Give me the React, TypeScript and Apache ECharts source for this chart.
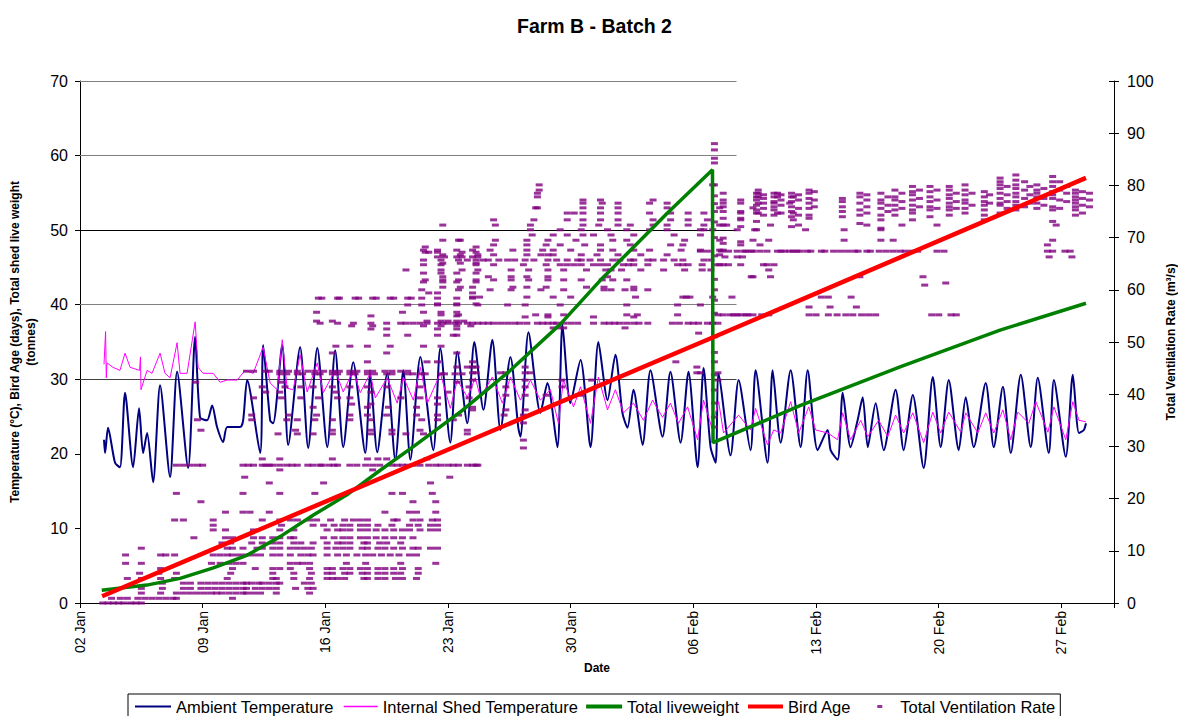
import React, { useEffect, useRef } from 'react';
import * as echarts from 'echarts';

const FONT = 'Arial, "Liberation Sans", Helvetica, sans-serif';

// x values are days since 02 Jan
const tickLabels = ['02 Jan', '09 Jan', '16 Jan', '23 Jan', '30 Jan', '06 Feb', '13 Feb', '20 Feb', '27 Feb'];

const ambientTemp: [number, number][] = [
  [1.37, 21.9], [1.43, 20.1], [1.6, 23.5], [2.0, 18.8], [2.28, 18.2], [2.57, 28.2], [3.03, 18.2], [3.37, 26.1], [3.6, 20.1], [3.83, 22.8],
  [4.17, 16.2], [4.57, 29.2], [5.14, 16.9], [5.54, 31.0], [6.17, 18.1], [6.57, 35.7], [6.85, 24.9], [7.25, 24.5], [7.54, 26.5], [7.82, 23.6],
  [8.17, 21.6], [8.4, 23.6], [9.14, 23.6], [9.31, 24.5], [9.54, 29.9], [10.28, 20.1], [10.45, 34.6], [10.85, 24.5], [11.02, 24.1], [11.54, 34.6],
  [11.88, 21.2], [12.56, 34.3], [13.02, 20.8], [13.54, 34.2], [14.11, 20.9], [14.56, 33.9], [15.02, 20.9], [15.59, 32.3], [16.28, 20.1], [16.56, 30.8],
  [16.96, 20.2], [17.53, 30.8], [17.99, 19.2], [18.45, 31.2], [18.85, 19.2], [19.42, 33.0], [20.16, 20.5], [20.56, 34.2], [21.13, 21.5], [21.53, 33.7],
  [22.1, 24.1], [22.5, 35.0], [23.02, 25.9], [23.53, 35.3], [23.99, 23.2], [24.56, 33.0], [25.01, 23.5], [25.13, 22.3], [25.59, 36.3], [26.27, 25.5],
  [26.67, 29.5], [27.24, 20.9], [27.53, 37.3], [27.98, 26.8], [28.56, 32.6], [29.13, 20.9], [29.58, 35.0], [30.1, 27.2], [30.55, 33.3], [30.95, 25.5],
  [31.24, 23.5], [31.58, 28.6], [32.1, 21.2], [32.55, 31.2], [33.24, 22.3], [33.69, 31.0], [34.27, 21.5], [34.72, 31.0], [35.24, 18.2], [35.58, 31.5],
  [35.98, 20.9], [36.27, 18.8], [36.44, 30.8], [37.12, 19.8], [37.58, 29.9], [38.26, 20.5], [38.55, 31.2], [39.23, 18.8], [39.52, 31.2], [39.98, 21.5],
  [40.55, 31.2], [41.12, 20.9], [41.52, 31.2], [42.09, 20.5], [42.66, 23.2], [42.83, 20.5], [43.23, 19.2], [43.52, 28.2], [43.97, 20.9], [44.37, 24.5],
  [44.66, 27.6], [44.95, 20.9], [45.4, 26.8], [45.86, 20.5], [46.54, 28.6], [47.0, 20.5], [47.52, 27.9], [48.14, 18.1], [48.66, 30.3], [49.11, 20.9],
  [49.57, 29.9], [50.14, 20.5], [50.54, 27.6], [51.0, 20.9], [51.68, 29.5], [52.14, 20.9], [52.66, 29.0], [53.11, 20.1], [53.68, 30.6], [54.25, 20.9],
  [54.65, 30.2], [55.28, 20.1], [55.57, 29.9], [56.25, 19.6], [56.65, 30.6], [57.0, 22.8], [57.28, 23.2], [57.4, 24.1],
];

const internalTemp: [number, number][] = [
  [1.37, 32.0], [1.46, 36.4], [1.5, 30.2], [1.54, 32.2], [1.88, 31.6], [2.28, 31.2], [2.57, 33.5], [2.86, 31.6], [3.4, 31.2], [3.45, 33.0],
  [3.48, 28.6], [3.83, 31.2], [4.11, 30.8], [4.57, 33.5], [4.85, 30.8], [5.14, 30.2], [5.54, 34.9], [5.71, 30.8], [6.11, 30.8], [6.57, 37.7],
  [6.74, 31.6], [7.02, 30.8], [7.6, 30.8], [8.0, 29.6], [8.4, 29.9], [8.97, 29.9], [9.42, 31.2], [9.88, 30.8], [10.45, 34.3], [10.85, 29.5],
  [11.25, 28.6], [11.54, 35.3], [11.82, 28.8], [12.16, 28.6], [12.56, 33.3], [12.96, 28.3], [13.54, 32.2], [13.88, 28.2], [14.56, 31.2], [15.02, 28.3],
  [15.59, 31.2], [15.99, 28.2], [16.56, 30.8], [16.85, 27.5], [17.53, 30.2], [18.1, 26.8], [18.45, 30.3], [19.02, 27.2], [19.42, 31.6], [19.82, 26.8],
  [20.56, 30.8], [21.13, 26.1], [21.53, 29.9], [22.1, 27.6], [22.56, 30.2], [22.84, 27.6], [23.53, 30.3], [24.1, 26.8], [24.56, 30.3], [25.13, 27.2],
  [25.7, 29.9], [26.27, 27.2], [26.84, 28.6], [27.3, 24.1], [27.58, 29.9], [28.16, 26.3], [28.56, 29.0], [29.13, 24.1], [29.58, 30.3], [30.1, 25.9],
  [30.55, 28.6], [31.01, 25.5], [31.58, 26.8], [32.15, 24.5], [32.67, 27.2], [33.24, 24.9], [33.69, 26.8], [34.15, 24.1], [34.67, 26.3], [35.24, 21.9],
  [35.58, 27.2], [36.04, 23.6], [36.44, 27.0], [36.72, 22.8], [37.58, 25.2], [38.26, 23.2], [38.55, 26.1], [39.23, 21.2], [39.58, 23.2], [39.98, 22.8],
  [40.55, 27.0], [41.01, 22.8], [41.58, 26.3], [41.98, 23.2], [42.66, 22.8], [43.23, 21.9], [43.52, 25.5], [43.97, 21.9], [44.55, 24.5], [44.95, 22.3],
  [45.57, 24.5], [46.09, 22.3], [46.54, 25.2], [47.0, 22.8], [47.52, 25.5], [48.14, 21.5], [48.66, 25.6], [49.11, 22.8], [49.57, 25.6], [50.26, 22.9],
  [50.54, 25.5], [51.23, 22.8], [51.68, 25.5], [52.14, 22.8], [52.66, 25.9], [53.11, 21.9], [53.51, 25.6], [54.14, 24.1], [54.54, 27.0], [55.23, 22.9],
  [55.57, 26.3], [56.25, 21.9], [56.65, 27.0], [57.0, 24.5], [57.4, 24.3],
];

const liveweight: [number, number][] = [
  [1.24, 1.7], [3.81, 2.4], [5.71, 3.3], [7.61, 4.7], [9.52, 6.4], [11.42, 8.9], [13.32, 11.8], [15.23, 14.5], [17.13, 17.8], [19.04, 21.0],
  [21.8, 25.8], [24.56, 31.2], [27.41, 37.4], [29.7, 43.3], [31.58, 47.7], [33.52, 52.3], [36.09, 58.1], [36.12, 21.5], [41.12, 26.5], [46.83, 31.7],
  [52.5, 36.6], [57.4, 40.2],
];

const birdAge: [number, number][] = [[1.26, 0.9], [36.1, 35.6], [57.4, 57.0]];

// Total ventilation rate: rows = [rate, days at which a reading sits at that rate]
const ventRows: [number, number[]][] = [
  [0.0, [1.3, 1.6, 1.9, 2.2, 2.5, 2.9, 3.2, 3.5]],
  [0.9, [1.8, 2.3, 2.7, 3.3, 3.7, 4.1, 4.5, 4.9, 5.3, 5.5, 8.7]],
  [1.9, [3.5, 4.6, 5.5, 5.9, 6.3, 6.7, 7.1, 7.5, 7.8, 8.1, 8.5, 8.9, 9.3, 9.5, 9.9, 10.3, 11.2, 13.1]],
  [2.8, [3.5, 4.7, 5.9, 6.3, 6.9, 7.3, 7.7, 8.1, 8.5, 8.9, 9.3, 9.5, 10.0, 10.4, 10.8, 11.2, 12.3, 13.0, 13.3]],
  [3.8, [4.7, 5.9, 6.3, 6.9, 7.3, 7.7, 8.1, 8.5, 8.9, 9.3, 9.5, 9.8, 10.2, 10.4, 10.8, 11.2, 11.4, 12.8, 13.2]],
  [4.7, [2.7, 3.5, 4.6, 5.4, 8.4, 11.0, 11.2, 12.2, 13.1, 14.1, 14.4, 14.7, 15.1, 16.2, 16.4, 17.0, 17.4, 18.0, 18.4, 19.2]],
  [5.7, [3.4, 4.5, 5.5, 8.6, 11.0, 12.2, 13.2, 14.1, 14.4, 15.1, 15.4, 16.1, 16.4, 17.0, 17.4, 17.9, 18.3, 19.3]],
  [6.6, [4.6, 8.7, 10.0, 11.0, 11.4, 12.0, 13.1, 14.1, 14.4, 15.0, 15.4, 16.0, 16.4, 17.0, 17.4, 17.9, 18.4, 19.3]],
  [7.6, [2.6, 3.5, 7.5, 8.0, 8.5, 8.9, 9.3, 12.0, 12.4, 12.7, 13.1, 15.2, 16.3, 18.3, 20.3]],
  [9.2, [2.6, 4.6, 4.9, 5.4, 7.6, 8.0, 8.4, 8.7, 9.1, 9.5, 9.9, 10.3, 11.0, 11.4, 12.0, 12.6, 13.0, 13.3, 14.1, 14.7, 15.2, 15.8, 16.3, 16.7, 17.2, 17.7, 18.2, 18.8, 19.2]],
  [10.5, [3.5, 8.4, 8.7, 9.3, 10.1, 10.4, 11.0, 11.4, 12.0, 12.4, 12.8, 13.2, 14.1, 14.6, 15.0, 15.4, 16.1, 16.4, 17.0, 17.4, 17.9, 18.4, 19.0, 19.3, 20.0, 20.4]],
  [11.5, [8.1, 8.6, 9.8, 10.4, 11.0, 11.4, 12.2, 12.6, 13.3, 14.1, 14.7, 15.0, 15.4, 16.2, 16.4, 17.1, 17.5, 18.3]],
  [12.5, [6.5, 8.3, 8.7, 9.9, 10.4, 11.0, 11.4, 12.0, 12.2, 13.9, 14.5, 15.0, 15.4, 16.0, 16.4, 16.9, 17.4, 17.9, 18.4, 19.0]],
  [14.0, [7.6, 8.3, 9.9, 11.4, 12.2, 14.1, 14.7, 15.0, 15.4, 16.0, 16.4, 16.9, 17.4, 17.9, 18.4, 18.8, 19.4, 20.0, 20.4]],
  [14.9, [7.6, 11.5, 13.3, 13.9, 14.5, 15.0, 15.4, 16.0, 16.4, 17.0, 17.8, 18.8, 19.3, 20.0, 20.4]],
  [15.9, [5.4, 5.9, 7.6, 10.4, 11.4, 12.0, 12.4, 13.1, 13.5, 14.3, 15.1, 15.6, 16.0, 16.4, 17.9, 18.1, 19.0, 19.4, 20.1, 20.4]],
  [17.4, [8.3, 9.3, 9.7, 10.8, 17.4, 18.8, 19.2, 20.3]],
  [19.4, [6.9, 19.0, 20.3]],
  [21.0, [5.5, 9.3, 11.4, 13.4, 17.8, 18.4, 20.1]],
  [23.0, [10.8, 13.9, 20.0]],
  [24.1, [9.4, 21.1]],
  [25.5, [11.4, 16.7]],
  [26.4, [5.5, 5.9, 6.3, 6.7, 7.0, 9.3, 9.6, 9.9, 10.4, 10.6, 10.8, 11.0, 11.4, 11.8, 12.1, 12.4, 13.0, 13.3, 13.7, 13.8, 14.2, 14.5, 14.7, 15.4, 15.8, 16.3, 16.7, 17.1, 17.8, 18.1, 18.4, 18.7, 19.0, 19.4, 19.9, 20.3, 20.6, 21.0, 21.3, 21.6, 22.1, 22.4, 22.6, 22.7]],
  [27.6, [10.4, 11.4, 14.4, 16.4, 17.0, 17.5, 19.8]],
  [29.7, [25.3]],
  [31.2, [25.3]],
  [32.4, [11.3, 12.4, 13.3, 14.4, 16.6, 17.8, 18.6, 19.6, 22.1]],
  [33.1, [6.9, 12.3, 14.4, 16.6, 17.8, 19.4, 22.1]],
  [34.5, [25.3]],
  [35.1, [6.7, 9.8, 11.8, 12.4, 13.4, 14.4, 15.4, 16.6, 19.5, 20.4, 21.3]],
  [36.0, [9.8, 11.9, 13.5, 15.4, 16.4, 17.5, 19.2, 20.4, 21.6, 24.2, 25.3]],
  [37.0, [22.4, 24.3, 25.4]],
  [37.5, [13.3, 16.4, 17.6, 19.2, 22.4]],
  [38.1, [15.5, 16.6, 20.4]],
  [39.3, [9.9, 11.5, 12.6, 13.6, 14.7, 15.4, 18.3, 19.4, 20.4, 22.2]],
  [39.8, [24.3, 25.4, 26.6, 28.6]],
  [40.4, [10.6, 11.4, 14.6, 16.6, 21.0]],
  [41.4, [10.4, 11.7, 12.6, 13.3, 14.4, 15.4, 16.4, 17.5, 19.4, 22.2, 24.3, 25.4, 27.5]],
  [42.3, [6.6, 11.5, 21.5]],
  [42.7, [22.4, 25.4, 27.5, 29.2, 36.4]],
  [43.9, [11.4, 11.8, 12.4, 12.7, 13.4, 13.7, 14.4, 14.7, 15.4, 15.7, 16.4, 16.8, 17.5, 17.8, 18.7, 19.0, 19.5, 19.7, 20.6, 20.8, 21.4, 21.8]],
  [44.1, [22.4, 22.6, 24.0, 24.3, 25.4, 25.7, 35.2, 35.4, 36.4]],
  [44.4, [9.5, 9.9, 10.6, 10.8, 11.4, 11.9, 12.4, 13.0, 13.4, 13.9, 14.4, 14.8, 15.4, 15.8, 16.4, 16.7, 17.4, 17.8, 18.3, 18.7]],
  [45.2, [21.5, 22.1, 22.4, 22.6, 25.4, 35.2]],
  [46.2, [16.4, 19.8, 20.4, 22.4, 34.0]],
  [47.9, [14.4, 17.5, 21.5]],
  [49.2, [14.6, 15.4, 16.4, 17.7, 19.6, 20.6]],
  [51.3, [17.5, 18.7, 20.4, 21.5, 21.3]],
  [51.7, [35.3]],
  [52.5, [16.6, 17.5, 20.4, 21.5]],
  [52.7, [27.0, 27.3, 27.6, 31.1]],
  [53.1, [15.5, 16.7, 19.6, 20.6, 21.5, 22.3]],
  [53.6, [13.7, 14.7, 15.6, 16.6, 17.5, 18.3, 18.6, 19.0, 19.4, 19.8, 20.4, 20.7, 21.0, 21.4, 21.6, 22.1, 22.4, 22.7, 23.0, 23.3, 23.6, 24.0, 24.4, 24.8, 25.1, 25.5, 26.1, 26.4, 26.7, 27.0, 27.2, 27.6, 28.0, 28.4, 29.3, 29.9, 30.2, 30.5, 30.8, 31.2, 31.6, 31.9, 32.4, 33.8, 34.2, 34.7, 35.0, 35.3, 35.8, 36.1, 36.4]],
  [54.0, [13.5, 14.4, 19.8, 20.6, 21.0, 21.5, 21.9]],
  [54.8, [25.4, 26.7, 29.3, 31.6]],
  [55.0, [16.6, 21.5]],
  [55.2, [20.6, 21.6, 26.0, 26.7, 27.6, 31.2, 31.8, 34.1, 36.4, 36.7, 37.1, 37.3, 37.5, 37.7, 38.0, 38.1, 38.4, 38.9, 39.3, 41.6, 42.0, 42.7, 43.2, 43.7, 44.1, 44.6, 45.0, 45.4, 48.6, 49.0, 49.7, 50.0]],
  [55.7, [13.5, 18.4, 19.6, 20.6, 21.5]],
  [56.7, [41.6, 42.8, 44.3]],
  [57.1, [18.7, 19.5, 20.4, 21.5, 22.7, 24.4, 25.4, 27.4, 31.2, 34.1, 35.4]],
  [57.3, [20.4, 21.5, 22.6]],
  [58.4, [13.6, 13.8, 14.7, 14.8, 15.7, 15.9, 16.7, 16.9, 17.7, 17.9, 18.7, 18.9, 19.5, 20.4, 21.5, 22.4]],
  [58.6, [22.4, 22.8, 25.5, 27.0, 28.0, 31.7, 34.4, 34.6, 34.8, 36.1, 37.2, 42.3, 42.7, 44.0]],
  [59.4, [19.9, 20.4, 22.4]],
  [60.0, [19.5, 21.6, 23.4, 24.6, 26.3, 27.6, 29.9, 30.3, 31.1, 31.6, 32.4]],
  [60.5, [20.7, 21.7, 22.4, 24.7, 25.5, 26.6, 28.9, 29.9, 31.6]],
  [60.9, [48.2]],
  [61.3, [49.4]],
  [61.5, [19.6, 20.7, 21.5, 22.6]],
  [61.9, [19.7, 20.7, 21.6, 22.6, 23.6, 24.6, 25.6, 26.7, 27.6, 28.6, 29.8, 30.4, 31.2]],
  [62.5, [20.7, 23.3, 24.6, 25.5, 26.7, 30.1, 38.3, 38.4, 39.4, 44.5, 48.1]],
  [63.2, [19.6, 20.6, 21.5, 22.6]],
  [63.8, [18.6, 20.6, 21.8, 22.7, 24.6, 25.6, 26.7, 27.6, 28.9, 30.0, 30.3, 30.9, 32.0, 33.3, 34.5, 35.5, 36.0, 39.3]],
  [64.8, [19.6, 20.6, 22.6, 23.6, 25.3, 26.6, 27.4, 27.8, 28.2, 28.6, 29.3, 29.7, 30.1, 31.0, 31.3, 31.6, 32.4, 34.1, 34.4, 34.7, 35.5, 36.3, 36.5, 36.7, 37.0, 37.7, 39.0, 39.2, 39.6]],
  [65.1, [20.7, 21.7, 22.6]],
  [65.7, [19.6, 20.6, 21.6, 22.1, 22.6, 23.0, 23.3, 23.9, 24.4, 24.8, 25.4, 25.9, 26.7, 27.2, 27.8, 28.4, 28.6, 29.1, 29.7, 30.4, 30.8, 31.4, 31.6, 32.4, 32.7, 33.3, 33.9, 34.4, 35.6, 36.0]],
  [66.3, [20.4, 20.8, 21.5, 21.8, 22.4, 22.7, 36.8, 37.5, 37.8, 55.3, 56.6]],
  [66.7, [20.7, 21.7, 22.7, 23.6, 25.5, 26.3, 26.7, 27.0, 28.6, 29.5, 30.7, 32.0, 33.5, 36.5]],
  [67.2, [19.7, 19.9, 20.4, 21.8, 22.6]],
  [67.4, [35.4, 35.8, 36.6, 37.0, 37.5, 37.9, 38.0, 38.3, 38.4, 38.8, 39.2, 39.8, 40.0, 40.2, 40.5, 40.7, 40.9, 41.1, 41.5, 41.7, 42.3, 42.5, 43.0, 43.4, 43.8, 44.2, 44.4, 44.9, 45.1, 45.6, 46.0, 46.4, 46.8, 47.1, 47.5, 47.8, 48.9, 49.3, 55.2, 55.5, 56.2, 56.5]],
  [67.6, [19.6, 20.4, 21.5, 22.4, 23.4, 24.7, 25.5, 26.4, 27.0, 28.0, 29.7, 30.4, 31.6, 32.5, 34.3, 35.4, 36.5]],
  [68.2, [19.7, 22.6]],
  [68.6, [23.6, 25.5, 26.6, 27.4, 28.8, 29.7, 31.4, 33.7, 34.4, 37.7, 38.8, 55.2]],
  [69.5, [20.7, 21.6, 21.7, 23.7, 25.5, 26.7, 28.3, 30.4, 31.2, 34.5, 36.5, 38.4, 39.3, 43.6, 45.7, 46.4, 55.5]],
  [70.5, [25.8, 27.0, 27.8, 28.7, 29.3, 30.3, 31.6, 33.9, 35.4]],
  [71.5, [25.7, 27.4, 28.6, 30.1, 31.2, 32.5, 33.5, 35.4, 35.6, 36.1, 37.5, 38.5, 41.4, 43.6, 45.7]],
  [72.4, [20.7, 23.7, 25.7, 28.7, 29.6, 30.7, 31.4, 32.7, 33.5, 34.7, 35.6, 36.5, 39.4, 36.9, 41.0, 44.9, 46.9, 48.9, 55.7]],
  [73.4, [23.6, 25.9, 27.8, 28.7, 29.7, 30.7, 32.7, 33.7, 34.7, 35.8, 37.7, 40.7]],
  [74.7, [27.8, 28.2, 28.7, 29.7, 30.7, 32.5, 33.7, 34.7, 35.6, 37.7, 38.7, 39.8, 40.7]],
  [75.7, [26.0, 26.1, 28.7, 29.7, 30.7, 33.5, 36.5, 38.4]],
  [76.6, [28.7, 29.8, 30.7, 32.5, 33.5, 36.7, 38.7, 39.6, 40.5]],
  [77.2, [28.7, 29.7, 32.7, 36.7, 37.7]],
  [77.8, [26.1, 38.7, 39.8, 40.7]],
  [78.5, [26.1, 38.7, 39.8]],
  [79.1, [26.2, 38.7]],
  [80.1, [26.2, 36.1]],
];

// Columns: [day, rates stacked at that day]
const ventCols: [number, number[]][] = [
  [36.2, [88.0, 86.8, 85.2, 84.3, 80.1, 78.0, 76.5, 75.0, 73.0, 70.0, 66.5, 62.0, 60.0, 58.0, 55.5, 51.0, 48.0, 46.2, 43.7, 40.8, 38.3, 35.6, 33.7]],
  [36.7, [78.5, 75.9, 75.0, 73.7, 72.4, 69.9, 68.9, 67.6]],
  [37.7, [76.6, 75.0, 73.7, 72.1, 69.2]],
  [38.6, [78.5, 77.8, 77.2, 76.2, 75.3, 74.7, 73.1, 71.5]],
  [39.0, [78.2, 77.5, 76.6, 75.6, 74.3]],
  [39.6, [78.5, 77.8, 76.9, 75.9, 75.3, 74.3]],
  [40.0, [78.2, 77.2, 76.2, 74.7]],
  [40.6, [78.5, 77.8, 76.9, 75.9, 75.0, 74.0, 72.1]],
  [41.0, [78.2, 77.2, 75.6, 74.3]],
  [41.6, [79.1, 78.5, 77.5, 76.6, 75.6, 74.3, 73.7]],
  [41.9, [78.8, 77.2, 75.9]],
  [43.5, [77.5, 76.9, 75.9, 75.0, 74.0]],
  [44.5, [78.5, 77.8, 76.6, 75.3, 74.3, 72.7]],
  [44.9, [78.2, 77.2, 75.9, 74.7]],
  [45.7, [78.5, 77.2, 76.6, 75.6, 74.3, 73.4, 71.8]],
  [46.1, [77.8, 76.2, 75.0]],
  [46.5, [79.1, 77.8, 77.2, 76.2, 75.3, 74.3]],
  [46.9, [78.5, 76.9, 75.6]],
  [47.5, [79.8, 78.8, 78.2, 77.2, 76.2, 75.3, 74.7, 73.4]],
  [47.9, [79.1, 77.5, 75.9]],
  [48.5, [79.8, 78.8, 77.8, 76.9, 75.9, 75.3, 74.0]],
  [48.9, [79.1, 77.2, 75.6]],
  [49.6, [79.8, 79.1, 78.2, 77.5, 76.6, 75.9, 75.3, 74.3]],
  [50.0, [78.5, 76.9, 75.6]],
  [50.5, [80.1, 79.1, 78.2, 77.2, 76.6, 75.6, 74.7]],
  [50.9, [78.5, 76.2]],
  [51.6, [78.8, 77.8, 76.9, 76.2, 75.3, 74.3, 73.4]],
  [51.9, [78.2, 76.6]],
  [52.5, [81.4, 80.7, 80.1, 79.4, 78.5, 77.5, 76.6, 76.2, 74.7]],
  [52.9, [79.8, 78.2, 76.9, 75.6]],
  [53.4, [82.0, 81.0, 80.1, 79.4, 78.5, 77.8, 76.9, 76.2, 75.3]],
  [53.9, [80.7, 79.1, 77.5, 75.9]],
  [54.2, [79.8, 78.2, 76.6]],
  [54.6, [80.1, 79.1, 78.5, 77.8, 76.6, 75.6]],
  [55.0, [79.4, 77.5, 76.2]],
  [55.5, [81.7, 80.7, 79.8, 78.8, 78.2, 77.5, 75.9, 75.3, 73.1]],
  [55.9, [80.7, 79.1, 77.2, 75.6]],
  [56.3, [79.8, 78.5, 76.9]],
  [56.8, [79.1, 78.5, 77.8, 77.2, 76.6, 75.9, 75.3, 74.3]],
  [57.2, [78.8, 77.5, 76.2, 74.7]],
  [57.6, [78.5, 77.2, 75.9]],
];

const gridLevels = [30, 40, 50, 60, 70];
const gridColors = ['#404040', '#808080', '#000000', '#808080', '#808080'];
const gridEndDay = 37.46;

const ventPoints: [number, number][] = [
  ...ventRows.flatMap(([r, days]) => days.map((d) => [d, r] as [number, number])),
  ...ventCols.flatMap(([d, rs]) => rs.map((r) => [d, r] as [number, number])),
];

const legendIcon = (shape: string) => `path://M0,0L0.01,0${shape}M38,14L37.99,14`;

export default function App() {
  const ref = useRef<HTMLDivElement>(null);
  useEffect(() => {
    if (!ref.current) return;
    const chart = echarts.init(ref.current, undefined, { renderer: 'svg' });
    const axisText = { fontFamily: FONT, color: '#000' };
    const option: any = {
      animation: false,
      backgroundColor: '#ffffff',
      title: {
        text: 'Farm B - Batch 2',
        left: 512,
        top: 11,
        textStyle: { fontFamily: FONT, fontSize: 19.5, fontWeight: 'bold', color: '#000' },
      },
      grid: { left: 80, right: 64, top: 81, bottom: 113, containLabel: false, outerBoundsMode: 'none' },
      legend: {
        left: 128,
        top: 694,
        padding: [4, 5],
        borderColor: '#000',
        borderWidth: 1,
        borderRadius: 0,
        itemWidth: 38,
        itemHeight: 14,
        itemGap: 6,
        itemStyle: { borderWidth: 0 },
        textStyle: { fontFamily: FONT, fontSize: 16.5, color: '#000' },
        data: [
          { name: 'Ambient Temperature', icon: legendIcon('M2,6h36v2h-36z') },
          { name: 'Internal Shed Temperature', icon: legendIcon('M4,6.3h34v1.4h-34z') },
          { name: 'Total liveweight', icon: legendIcon('M2,5h36v4h-36z') },
          { name: 'Bird Age', icon: legendIcon('M3,5h35v4h-35z') },
          { name: 'Total Ventilation Rate', icon: legendIcon('M20,5.5h5v3h-5z') },
        ],
      },
      xAxis: {
        type: 'value',
        min: 0,
        max: 59,
        interval: 7,
        name: 'Date',
        nameLocation: 'middle',
        nameGap: 59,
        nameTextStyle: { ...axisText, fontSize: 12, fontWeight: 'bold' },
        axisLine: { show: true, onZero: false, lineStyle: { color: '#000', width: 1 } },
        axisTick: { show: true, length: 5, lineStyle: { color: '#000' } },
        axisLabel: {
          ...axisText,
          fontSize: 14,
          rotate: 90,
          margin: 8,
          formatter: (v: number) => {
            const i = v / 7;
            return Number.isInteger(i) && tickLabels[i] ? tickLabels[i] : '';
          },
        },
        splitLine: { show: false },
      },
      yAxis: [
        {
          type: 'value',
          position: 'left',
          min: 0,
          max: 70,
          interval: 10,
          name: 'Temperature (°C), Bird Age (days), Total shed live weight\n(tonnes)',
          nameLocation: 'middle',
          nameRotate: 90,
          nameGap: 40,
          nameTextStyle: { ...axisText, fontSize: 12, fontWeight: 'bold', lineHeight: 16 },
          axisLine: { show: true, lineStyle: { color: '#000', width: 1 } },
          axisTick: { show: true, length: 5, lineStyle: { color: '#000' } },
          axisLabel: { ...axisText, fontSize: 16, margin: 12 },
          splitLine: { show: false },
        },
        {
          type: 'value',
          position: 'right',
          min: 0,
          max: 100,
          interval: 10,
          name: 'Total Ventilation Rate (m³/s)',
          nameLocation: 'middle',
          nameRotate: 90,
          nameGap: 42,
          nameTextStyle: { ...axisText, fontSize: 12, fontWeight: 'bold' },
          axisLine: { show: true, lineStyle: { color: '#000', width: 1 } },
          axisTick: { show: true, length: 5, lineStyle: { color: '#000' } },
          axisLabel: { ...axisText, fontSize: 16, margin: 13 },
          splitLine: { show: false },
        },
        {
          type: 'value',
          position: 'right',
          min: 0,
          max: 100,
          interval: 10,
          axisLine: { show: false },
          axisTick: { show: true, inside: true, length: 5, lineStyle: { color: '#000' } },
          axisLabel: { show: false },
          splitLine: { show: false },
        },
      ],
      series: [
        {
          name: 'Ambient Temperature',
          type: 'line',
          yAxisIndex: 0,
          data: ambientTemp,
          symbol: 'none',
          smooth: 0.25,
          color: '#000080',
          lineStyle: { color: '#000080', width: 2 },
          z: 2,
          markLine: {
            silent: true,
            symbol: ['none', 'none'],
            label: { show: false },
            z: 1,
            data: gridLevels.map((lv, i) => [
              { coord: [0, lv], lineStyle: { color: gridColors[i], width: 1, type: 'solid' } },
              { coord: [gridEndDay, lv] },
            ]),
          },
        },
        {
          name: 'Internal Shed Temperature',
          type: 'line',
          yAxisIndex: 0,
          data: internalTemp,
          symbol: 'none',
          color: '#FF00FF',
          lineStyle: { color: '#FF00FF', width: 1 },
          z: 3,
        },
        {
          name: 'Total Ventilation Rate',
          type: 'scatter',
          yAxisIndex: 1,
          data: ventPoints,
          symbol: 'rect',
          symbolSize: [7, 3],
          color: '#800080',
          itemStyle: { color: '#800080' },
          z: 4,
        },
        {
          name: 'Total liveweight',
          type: 'line',
          yAxisIndex: 0,
          data: liveweight,
          symbol: 'none',
          smooth: false,
          color: '#008000',
          lineStyle: { color: '#008000', width: 3.5 },
          z: 5,
        },
        {
          name: 'Bird Age',
          type: 'line',
          yAxisIndex: 0,
          data: birdAge,
          symbol: 'none',
          color: '#FF0000',
          lineStyle: { color: '#FF0000', width: 4.5 },
          z: 6,
        },
      ],
    };
    chart.setOption(option);
    return () => chart.dispose();
  }, []);
  return (
    <div
      ref={ref}
      style={{ position: 'absolute', left: 0, top: 0, width: 1178, height: 716, background: '#fff' }}
    />
  );
}
